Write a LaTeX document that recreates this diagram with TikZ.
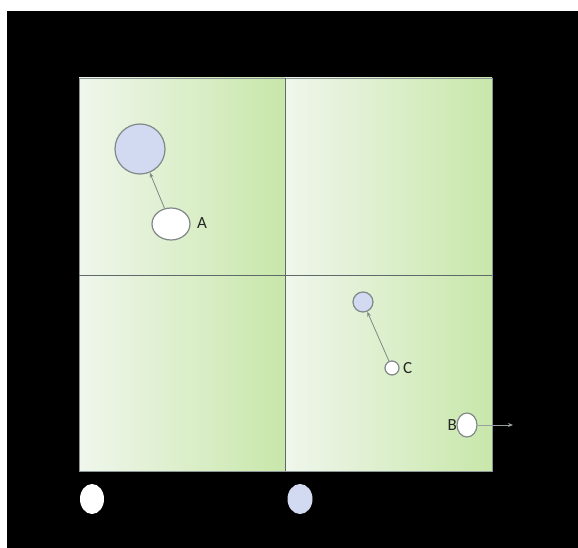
\documentclass[tikz,border=0pt]{standalone}
\usepackage{fontspec}
\setmainfont{Carlito}
\usetikzlibrary{arrows.meta,shapes.geometric}
\definecolor{qleft}{HTML}{F0F6EC}
\definecolor{qright}{HTML}{C8E7AA}
\definecolor{bluefill}{HTML}{D2DAF2}
\definecolor{edgegray}{HTML}{808888}
\definecolor{divgray}{HTML}{5E6A6A}
\tikzset{
  quad/.style={left color=qleft, right color=qright, draw=none},
  ring/.style={ellipse, draw=edgegray, line width=1.2pt, inner sep=0pt},
  whitering/.style={ring, fill=white},
  bluering/.style={ring, fill=bluefill},
  lbl/.style={font=\fontsize{17}{17}\selectfont, text=black!85, inner sep=1pt},
  mover/.style={draw=edgegray, line width=0.8pt, -{Stealth[length=5pt,width=4pt]}},
  glow/.style={ellipse, inner sep=0pt, draw=none},
}
\begin{document}
\begin{tikzpicture}[x=1pt,y=-1pt]
\useasboundingbox (0,0) rectangle (578,548);
\fill[white] (0,0) rectangle (578,548);
\fill[black] (7,11) rectangle (578,548);
% quadrants
\shade[quad] (79,78) rectangle (285,275);
\shade[quad] (285,78) rectangle (492,275);
\shade[quad] (79,275) rectangle (285,471);
\shade[quad] (285,275) rectangle (492,471);
\draw[divgray!70, line width=0.6pt] (79,78) rectangle (492,471);
\draw[divgray, line width=1pt] (285,78) -- (285,471);
\draw[divgray, line width=1pt] (79,275) -- (492,275);
% A
\node[bluering, minimum width=50pt, minimum height=50pt] (Aold) at (140,149) {};
\node[whitering, minimum width=38pt, minimum height=32pt] (Anew) at (171,224) {};
\node[lbl, anchor=west] (Alab) at (196,223) {A};
\draw[mover] (Anew) -- (Aold);
% C
\node[bluering, minimum width=20pt, minimum height=20pt] (Cold) at (363,302) {};
\node[whitering, minimum width=14pt, minimum height=14pt] (Cnew) at (392,368) {};
\node[lbl, anchor=west] (Clab) at (402,368) {C};
\draw[mover] (Cnew) -- (Cold);
% B
\node[whitering, minimum width=20pt, minimum height=24pt] (Bnew) at (467,425) {};
\node[lbl, anchor=east] (Blab) at (458,425) {B};
\coordinate (Bend) at (513,425);
\draw[mover, draw=edgegray!80] (Bnew) -- (Bend);
% bottom markers
\node[glow, fill=white, minimum width=24pt, minimum height=30pt] (m1) at (92,499) {};
\node[glow, fill=bluefill, minimum width=25pt, minimum height=30pt] (m2) at (300,499) {};
\end{tikzpicture}
\end{document}
